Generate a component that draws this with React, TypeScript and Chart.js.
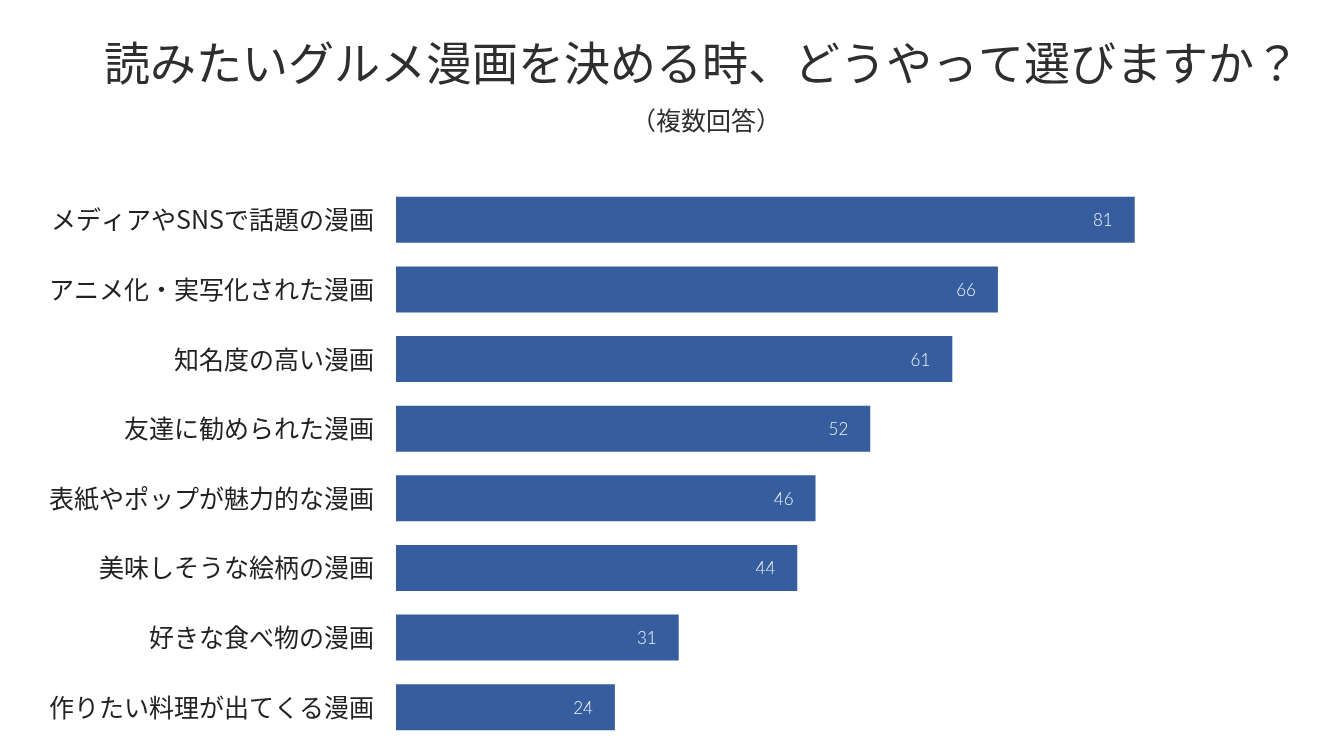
import React, { useEffect, useRef } from "react";
import { Chart, registerables } from "chart.js";

Chart.register(...registerables);

const titleText = "読みたいグルメ漫画を決める時、どうやって選びますか？";
const subtitleText = "（複数回答）";
const categories = [
  "メディアやSNSで話題の漫画",
  "アニメ化・実写化された漫画",
  "知名度の高い漫画",
  "友達に勧められた漫画",
  "表紙やポップが魅力的な漫画",
  "美味しそうな絵柄の漫画",
  "好きな食べ物の漫画",
  "作りたい料理が出てくる漫画",
];
const values = [81, 66, 61, 52, 46, 44, 31, 24];

const FONT = "'Noto Sans CJK JP', 'Noto Sans', sans-serif";

const headerPlugin = {
  id: "header",
  beforeDraw(chart: any) {
    const ctx = chart.ctx;
    ctx.save();
    ctx.fillStyle = "#2e2e2e";
    ctx.textAlign = "center";
    ctx.textBaseline = "middle";
    ctx.font = `400 46px ${FONT}`;
    ctx.fillText(titleText, 702, 63);
    ctx.font = `400 25px ${FONT}`;
    ctx.fillText(subtitleText, 706, 120);
    ctx.restore();
  },
};

const valueLabelPlugin = {
  id: "valueLabels",
  afterDatasetsDraw(chart: any) {
    const ctx = chart.ctx;
    const meta = chart.getDatasetMeta(0);
    const data = chart.data.datasets[0].data;
    ctx.save();
    ctx.fillStyle = "#eef2fa";
    ctx.font = `300 17px Lato, ${FONT}`;
    ctx.textAlign = "right";
    ctx.textBaseline = "middle";
    meta.data.forEach((bar: any, i: number) => {
      ctx.fillText(String(data[i]), bar.x - 22, bar.y + 1);
    });
    ctx.restore();
  },
};

export default function App() {
  const ref = useRef<HTMLCanvasElement>(null);
  useEffect(() => {
    document.body.style.margin = "0";
    const chart = new Chart(ref.current!, {
      type: "bar",
      data: {
        labels: categories,
        datasets: [
          {
            data: values,
            backgroundColor: "#365e9e",
            borderWidth: 0,
            barPercentage: 0.66,
            categoryPercentage: 1,
          },
        ],
      },
      options: {
        indexAxis: "y",
        animation: false,
        responsive: false,
        maintainAspectRatio: false,
        layout: { padding: { top: 185, bottom: 12, right: 35, left: 0 } },
        plugins: {
          legend: { display: false },
          tooltip: { enabled: false },
        },
        scales: {
          x: { min: 0, max: 100, display: false },
          y: {
            grid: { display: false },
            border: { display: false },
            afterFit: (s: any) => {
              s.width = 396;
              s.paddingTop = 0;
              s.paddingBottom = 0;
            },
            ticks: {
              color: "#222",
              font: { family: FONT, size: 25 },
              padding: 14,
            },
          },
        },
      },
      plugins: [headerPlugin, valueLabelPlugin],
    });
    return () => chart.destroy();
  }, []);
  return (
    <div style={{ width: 1343, height: 754 }}>
      <canvas ref={ref} width={1343} height={754} style={{ display: "block" }} />
    </div>
  );
}
